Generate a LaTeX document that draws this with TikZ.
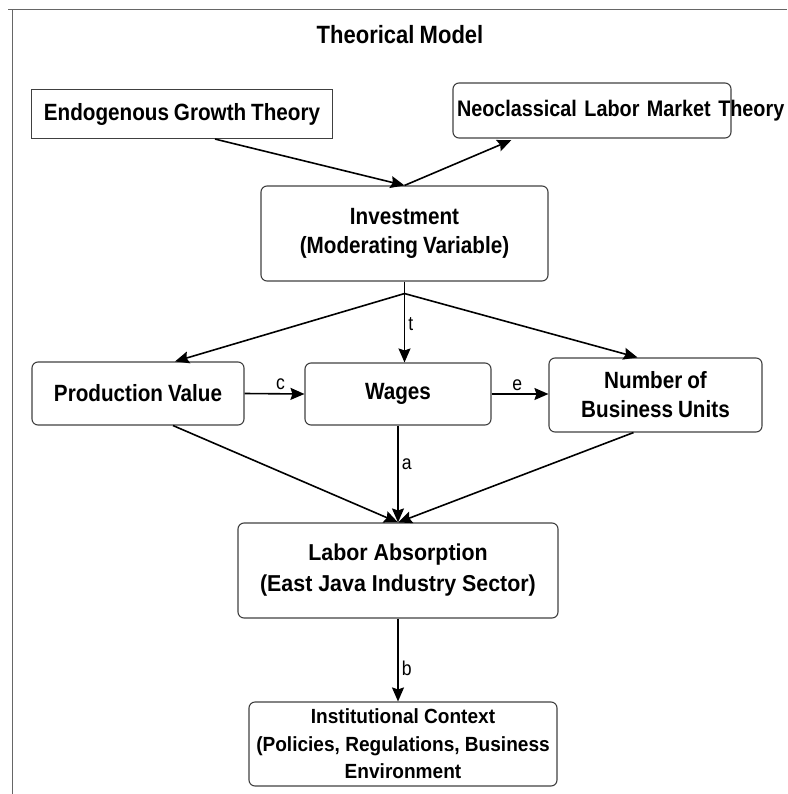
\documentclass[tikz,border=0pt]{standalone}
\usepackage{fontspec}
\setmainfont{Liberation Sans}[FakeStretch=0.88,WordSpace=0.85]
\newfontfamily\widefont{Liberation Sans}[FakeStretch=0.93]
\usetikzlibrary{arrows.meta,positioning,calc}

\tikzset{
	box/.style={draw=black!75, line width=1.1pt, rounded corners=6pt, align=center,
		inner sep=4pt, font=\fontsize{23.5}{29}\selectfont\bfseries},
	sqbox/.style={box, rounded corners=0pt},
	flow/.style={line width=1.6pt, ->},
	lbl/.style={font=\fontsize{20}{22}\selectfont, inner sep=3pt}
}

\begin{document}
\begin{tikzpicture}[x=1pt, y=-1pt, >={Stealth[length=14pt,width=12pt,inset=2pt]}]
	\useasboundingbox (0,0) rectangle (787,794);
	% frame
	\draw[black!60, line width=1pt] (8,10) -- (787,10);
	\draw[black!60, line width=1pt] (12,10) -- (12,794);
	\node[font=\fontsize{25}{30}\selectfont\bfseries] (title) at (400,35) {Theorical Model};
	% theories
	\node[sqbox, minimum width=301pt, minimum height=49pt] (endo) at (182,114) {Endogenous Growth Theory};
	\node[box, minimum width=278pt, minimum height=55pt, text width=270pt, align=left, inner sep=2pt,
		font=\fontsize{22.5}{29}\selectfont\bfseries] (neo) at (592,110.5)
		{\rlap{Neoclassical Labor Market Theory}};
	\node[box, minimum width=287pt, minimum height=95pt] (inv) at (404.5,233.5) {Investment\\(Moderating Variable)};
	% variables
	\node[box, minimum width=212pt, minimum height=63pt] (prod) at (138,393.5) {Production Value};
	\node[box, minimum width=186pt, minimum height=62pt] (wage) at (398,394) {Wages};
	\node[box, minimum width=213pt, minimum height=74pt] (num) at (655.5,395) {Number of\\Business Units};
	\node[box, minimum width=320pt, minimum height=95pt, font=\widefont\fontsize{23}{31}\selectfont\bfseries] (labor) at (398,570.5)
		{Labor Absorption\\(East Java Industry Sector)};
	\node[box, minimum width=308pt, minimum height=84pt, font=\widefont\fontsize{20.5}{27.5}\selectfont\bfseries] (inst) at (403,744)
		{Institutional Context\\(Policies, Regulations, Business\\Environment};
	\coordinate (split) at ([yshift=-12pt]inv.south);
	% connectors
	\draw[flow] ([xshift=33pt]endo.south) -- (inv.north);
	\draw[flow, shorten >=4pt] (inv.north) -- ([xshift=-77pt]neo.south);
	\draw[line width=1.6pt] (inv.south) -- (split);
	\draw[flow] (split) -- ([xshift=37pt]prod.north);
	\draw[flow] (split) -- node[lbl, right, pos=0.45]{t} (split |- wage.north);
	\draw[flow] (split) -- ([xshift=-18pt]num.north);
	\draw[flow] (prod.east) -- node[lbl, above, pos=0.6]{c} (wage.west);
	\draw[flow] (wage.east) -- node[lbl, above, pos=0.45]{e} (wage.east -| num.west);
	\draw[flow] ([xshift=35pt]prod.south) -- (labor.north);
	\draw[flow] (wage.south) -- node[lbl, right, pos=0.4]{a} (wage.south |- labor.north);
	\draw[flow] ([xshift=-22pt]num.south) -- (labor.north);
	\draw[flow] (labor.south) -- node[lbl, right, pos=0.6]{b} (labor.south |- inst.north);
\end{tikzpicture}
\end{document}
